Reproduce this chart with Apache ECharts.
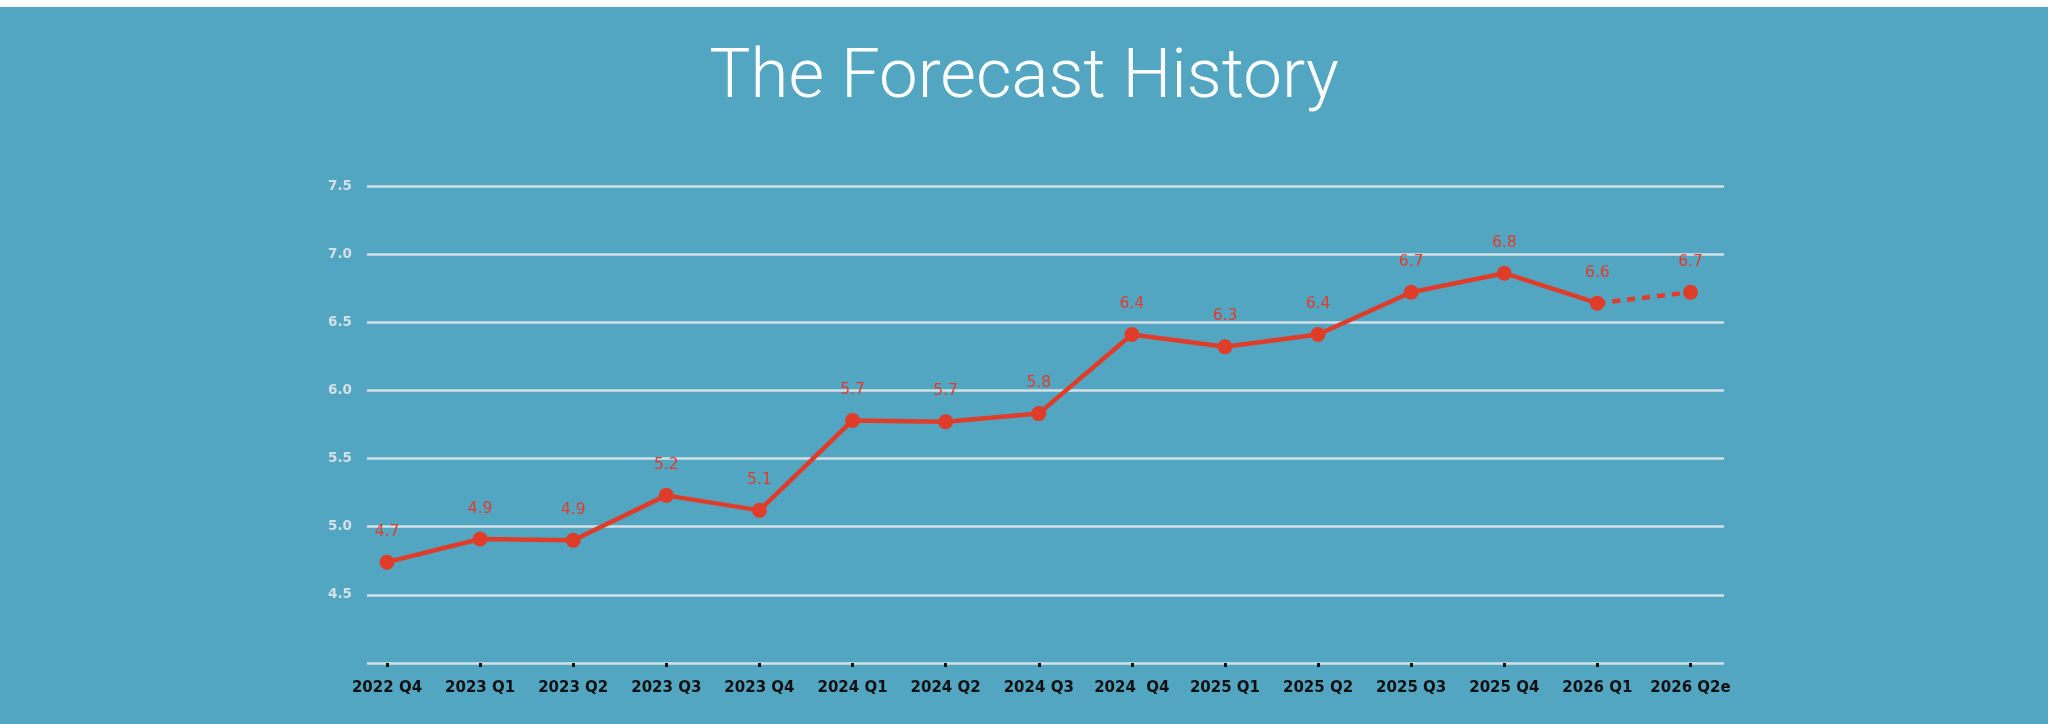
<!DOCTYPE html>
<html>
<head>
<meta charset="utf-8">
<script src="https://cdn.jsdelivr.net/npm/echarts@6/dist/echarts.min.js"></script>
<style>
  html, body { margin: 0; padding: 0; background: #ffffff; }
  #chart { width: 2048px; height: 724px; }
</style>
</head>
<body>
<div id="chart"></div>
<script>
const categories = ['2022 Q4', '2023 Q1', '2023 Q2', '2023 Q3', '2023 Q4', '2024 Q1', '2024 Q2', '2024 Q3', '2024  Q4', '2025 Q1', '2025 Q2', '2025 Q3', '2025 Q4', '2026 Q1', '2026 Q2e'];
const values = [4.74, 4.91, 4.90, 5.23, 5.12, 5.78, 5.77, 5.83, 6.41, 6.32, 6.41, 6.72, 6.86, 6.64, 6.72];
const pointLabels = ['4.7', '4.9', '4.9', '5.2', '5.1', '5.7', '5.7', '5.8', '6.4', '6.3', '6.4', '6.7', '6.8', '6.6', '6.7'];
const yTicks = [4.0, 4.5, 5.0, 5.5, 6.0, 6.5, 7.0, 7.5];
const forecastStart = 13;

const RED = '#e03c2a';

const solidData = values.map((v, i) => (i <= forecastStart ? v : '-'));
const dashedData = values.map((v, i) => {
  if (i === forecastStart) return { value: v, symbol: 'none', label: { show: false } };
  if (i > forecastStart) return v;
  return '-';
});

const chart = echarts.init(document.getElementById('chart'));
const yMin = yTicks[0], yMax = yTicks[yTicks.length - 1], yStep = yTicks[1] - yTicks[0];

const labelCfg = {
  show: true,
  position: 'top',
  distance: 15,
  color: RED,
  fontFamily: 'DejaVu Sans',
  fontSize: 15.5,
  formatter: p => pointLabels[p.dataIndex]
};

chart.setOption({
  backgroundColor: '#53a6c2',
  animation: false,
  graphic: [{
    type: 'rect', left: 0, top: 0, z: 100,
    shape: { width: 2048, height: 7 },
    style: { fill: '#ffffff' }
  }],
  title: {
    text: 'The Forecast History',
    left: 'center',
    top: 40,
    textStyle: { color: '#ffffff', fontFamily: 'Roboto', fontWeight: 300, fontSize: 69 }
  },
  grid: [
    { left: 367, right: 324, top: 186, bottom: 61 },
    { left: 387, right: 357.5, top: 186, bottom: 61 }
  ],
  xAxis: [
    { type: 'category', gridIndex: 0, data: categories, show: false },
    {
      type: 'category', gridIndex: 1, data: categories, boundaryGap: false,
      axisLine: { show: false },
      axisTick: { show: true, length: 4, inside: false, lineStyle: { color: '#111111', width: 3 } },
      axisLabel: { color: '#111111', fontFamily: 'DejaVu Sans', fontWeight: 'bold', fontSize: 15, margin: 18, interval: 0 },
      splitLine: { show: false }
    }
  ],
  yAxis: [
    {
      type: 'value', gridIndex: 0, min: yMin, max: yMax, interval: yStep,
      axisLine: { show: false }, axisTick: { show: false },
      axisLabel: {
        showMinLabel: false, margin: 15,
        color: '#d3e0e7', fontFamily: 'DejaVu Sans', fontWeight: 'bold', fontSize: 13.5,
        formatter: v => v.toFixed(1)
      },
      splitLine: { show: true, lineStyle: { color: '#d4e0e5', width: 2.5 } }
    },
    {
      type: 'value', gridIndex: 1, min: yMin, max: yMax, interval: yStep,
      show: false, splitLine: { show: false }
    }
  ],
  series: [
    {
      type: 'line', xAxisIndex: 1, yAxisIndex: 1, data: solidData,
      symbol: 'circle', symbolSize: 15, showAllSymbol: true,
      lineStyle: { color: RED, width: 4.5 },
      itemStyle: { color: RED },
      label: labelCfg, z: 3
    },
    {
      type: 'line', xAxisIndex: 1, yAxisIndex: 1, data: dashedData,
      symbol: 'circle', symbolSize: 15, showAllSymbol: true,
      lineStyle: { color: RED, width: 4.5, type: [8, 7] },
      itemStyle: { color: RED },
      label: labelCfg, z: 2
    }
  ]
});
</script>
</body>
</html>
